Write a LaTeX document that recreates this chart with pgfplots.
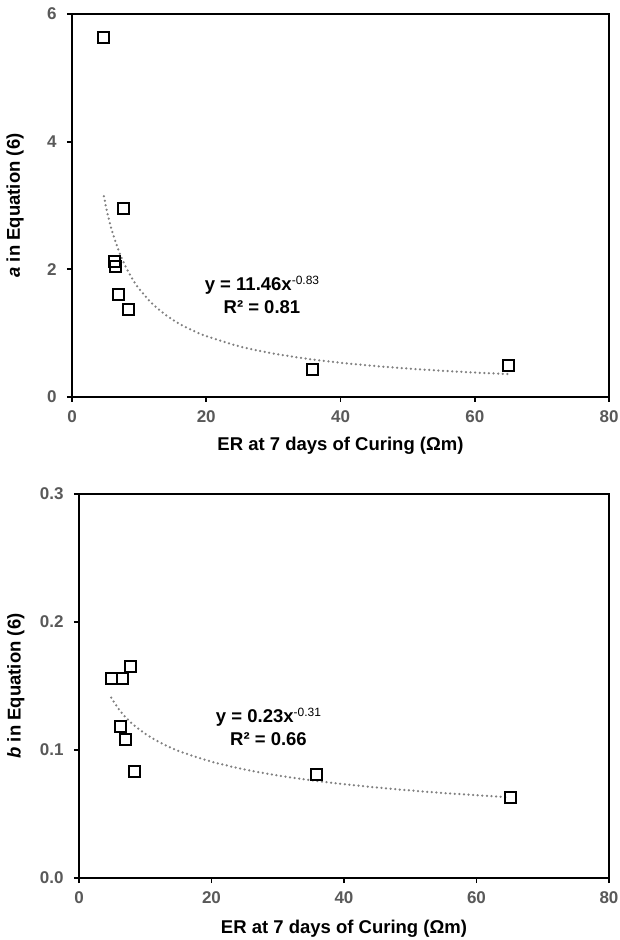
\documentclass[border=0pt]{standalone}
\usepackage{pgfplots}
\pgfplotsset{compat=1.18}
\usepackage{fontspec}
\setmainfont{Liberation Sans}

\definecolor{tickgray}{HTML}{595959}
\definecolor{trendgray}{HTML}{808080}

\pgfplotsset{
  erpanel/.style={
    scale only axis,
    xmin=0, xmax=80, xtick={0,20,40,60,80},
    tick align=outside, xtick pos=bottom, ytick pos=left,
    major tick length=5pt,
    axis line style={line width=2.2pt, black},
    every tick/.style={black, line width=1.8pt},
    /pgf/number format/assume math mode=true,
    ticklabel style={font=\fontsize{17}{17}\selectfont\bfseries, text=tickgray},
    xticklabel style={yshift=-5pt},
    yticklabel style={xshift=-7pt},
    label style={font=\fontsize{18.5}{20}\selectfont\bfseries},
    xlabel={ER at 7 days of Curing (Ωm)},
  },
  measured/.style={only marks, mark=square, mark size=5.5pt,
    mark options={line width=2pt, draw=black, fill=none}},
  powerfit/.style={trendgray, line width=2.5pt, line cap=round,
    dash pattern=on 0pt off 4.6pt, smooth},
}
\tikzset{fitlabel/.style={align=center, font=\fontsize{18.5}{23}\selectfont\bfseries}}

\newcommand{\expo}[1]{\raisebox{6pt}{\fontsize{12}{12}\selectfont\mdseries #1}}

\begin{document}
\begin{tikzpicture}
\path[use as bounding box] (0,0) rectangle (619pt,940pt);

% coefficient a against electrical resistivity
\begin{axis}[erpanel,
  at={(72pt,543pt)}, anchor=south west,
  width=537pt, height=383pt,
  ymin=0, ymax=6, ytick={0,2,4,6},
  ylabel={\textit{a} in Equation (6)},
  ylabel style={at={(axis description cs:-0.106,0.5)}, anchor=center},
  xlabel style={at={(axis description cs:0.5,-0.128)}, anchor=center},
]
\addplot[measured] coordinates {
  (4.75,5.63) (6.33,2.12) (6.5,2.05) (6.92,1.61)
  (7.71,2.95) (8.35,1.37) (35.85,0.43) (65.05,0.49)
};
\addplot[powerfit] coordinates {
  (4.75,3.145) (5,3.013) (5.5,2.784) (6,2.590) (7,2.279) (8,2.040)
  (9,1.850) (10,1.695) (12,1.457) (14,1.282) (16,1.147) (18,1.041)
  (20,0.954) (25,0.792) (30,0.681) (35,0.599) (40,0.537) (45,0.487)
  (50,0.446) (55,0.412) (60,0.383) (65,0.359)
};
\node[fitlabel] at (axis cs:28.3,1.60) {y = 11.46x\expo{-0.83}\\R² = 0.81};
\end{axis}

% coefficient b against electrical resistivity
\begin{axis}[erpanel,
  at={(79pt,62pt)}, anchor=south west,
  width=530pt, height=384pt,
  ymin=0, ymax=0.3, ytick={0,0.1,0.2,0.3},
  yticklabel style={/pgf/number format/.cd, fixed, fixed zerofill, precision=1},
  ylabel={\textit{b} in Equation (6)},
  ylabel style={at={(axis description cs:-0.119,0.5)}, anchor=center},
  xlabel style={at={(axis description cs:0.5,-0.132)}, anchor=center},
]
\addplot[measured] coordinates {
  (4.86,0.156) (6.32,0.118) (6.64,0.156) (6.96,0.108)
  (7.83,0.165) (8.37,0.0835) (35.9,0.081) (65.2,0.063)
};
\addplot[powerfit] coordinates {
  (4.86,0.1409) (5,0.1397) (6,0.1320) (7,0.1258) (8,0.1207)
  (10,0.1127) (12,0.1065) (15,0.0993) (20,0.0909) (25,0.0848)
  (30,0.0801) (35,0.0764) (40,0.0733) (45,0.0707) (50,0.0684)
  (55,0.0664) (60,0.0647) (65,0.0630)
};
\node[fitlabel] at (axis cs:28.6,0.118) {y = 0.23x\expo{-0.31}\\R² = 0.66};
\end{axis}
\end{tikzpicture}
\end{document}
